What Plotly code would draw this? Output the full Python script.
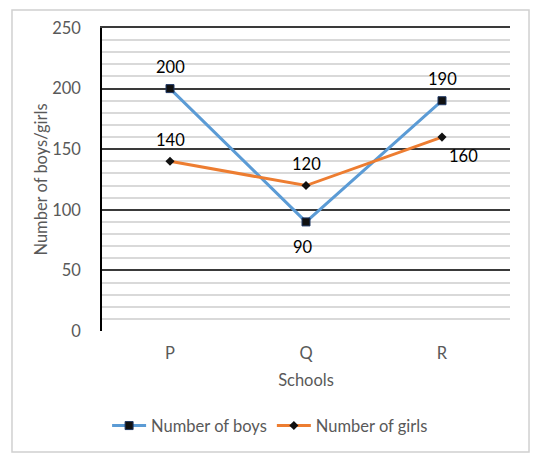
import plotly.graph_objects as go

schools = ["P", "Q", "R"]
boys = [200, 90, 190]
girls = [140, 120, 160]
y_ticks = [0, 50, 100, 150, 200, 250]

FONT = "Lato"
GRAY = "#595959"
FS = 16.5

fig = go.Figure()
fig.add_trace(go.Scatter(
    x=schools, y=boys, name="Number of boys", mode="lines+markers",
    line=dict(color="#5B9BD5", width=3),
    marker=dict(symbol="square", size=8, color="#111111", line=dict(color="#1f3864", width=1)),
))
fig.add_trace(go.Scatter(
    x=schools, y=girls, name="Number of girls", mode="lines+markers",
    line=dict(color="#ED7D31", width=3),
    marker=dict(symbol="diamond", size=7, color="#111111"),
))
# invisible trace that activates the overlay axes (major gridlines + top border)
fig.add_trace(go.Scatter(x=schools, y=boys, xaxis="x2", yaxis="y2", showlegend=False,
                         mode="lines", line=dict(width=0), hoverinfo="skip", opacity=0))

# data labels
boy_shift = [(0, 22), (-3, -25), (0, 22)]
girl_shift = [(0, 21), (0, 22), (21, -19)]
for s, v, (dx, dy) in zip(schools, boys, boy_shift):
    fig.add_annotation(x=s, y=v, text=str(v), showarrow=False, xshift=dx, yshift=dy,
                       font=dict(family=FONT, size=FS, color="#000000"))
for s, v, (dx, dy) in zip(schools, girls, girl_shift):
    fig.add_annotation(x=s, y=v, text=str(v), showarrow=False, xshift=dx, yshift=dy,
                       font=dict(family=FONT, size=FS, color="#000000"))

# outer chart border
fig.add_shape(type="rect", xref="paper", yref="paper",
              x0=-0.2206, x1=1.0466, y0=-0.3993, y1=1.0594,
              line=dict(color="#d0d0d0", width=1.5), layer="above")

fig.update_layout(
    width=547, height=457,
    margin=dict(l=102, r=37, t=28, b=126, autoexpand=False),
    paper_bgcolor="white", plot_bgcolor="white",
    font=dict(family=FONT, size=FS, color=GRAY),
    showlegend=True,
    legend=dict(orientation="h", x=0.412, xanchor="center", y=-0.313, yanchor="middle",
                font=dict(family=FONT, size=FS, color=GRAY), itemwidth=34,
                traceorder="normal"),
    xaxis=dict(
        type="category", range=[-0.5, 2.5], showgrid=False, zeroline=False,
        showline=False, ticks="", ticklabelstandoff=10, automargin=False,
        tickfont=dict(family=FONT, size=FS, color=GRAY),
        title=dict(text="Schools", standoff=12, font=dict(family=FONT, size=FS, color=GRAY)),
    ),
    xaxis2=dict(
        type="category", overlaying="x", side="top", range=[-0.5, 2.5],
        showgrid=False, zeroline=False, showticklabels=False, ticks="",
        showline=True, linecolor="#3a3a3a", linewidth=1.5, automargin=False,
    ),
    yaxis=dict(
        range=[0, 250], tickvals=y_ticks, showgrid=False, zeroline=False,
        showline=True, linecolor="#000000", linewidth=1.5, ticks="",
        ticklabelstandoff=16, automargin=False,
        tickfont=dict(family=FONT, size=FS, color=GRAY),
        minor=dict(dtick=10, showgrid=True, gridcolor="#d9d9d9", gridwidth=1.5),
        title=dict(text="Number of boys/girls", standoff=0,
                   font=dict(family=FONT, size=FS, color=GRAY)),
    ),
    yaxis2=dict(
        overlaying="y", range=[0, 250], tickvals=y_ticks[1:], showticklabels=False,
        showgrid=True, gridcolor="#3a3a3a", gridwidth=1.5, zeroline=False,
        showline=False, ticks="", automargin=False,
    ),
)

fig.write_html("out.html", config={"displayModeBar": False},
               post_script="document.body.style.margin='0';")
